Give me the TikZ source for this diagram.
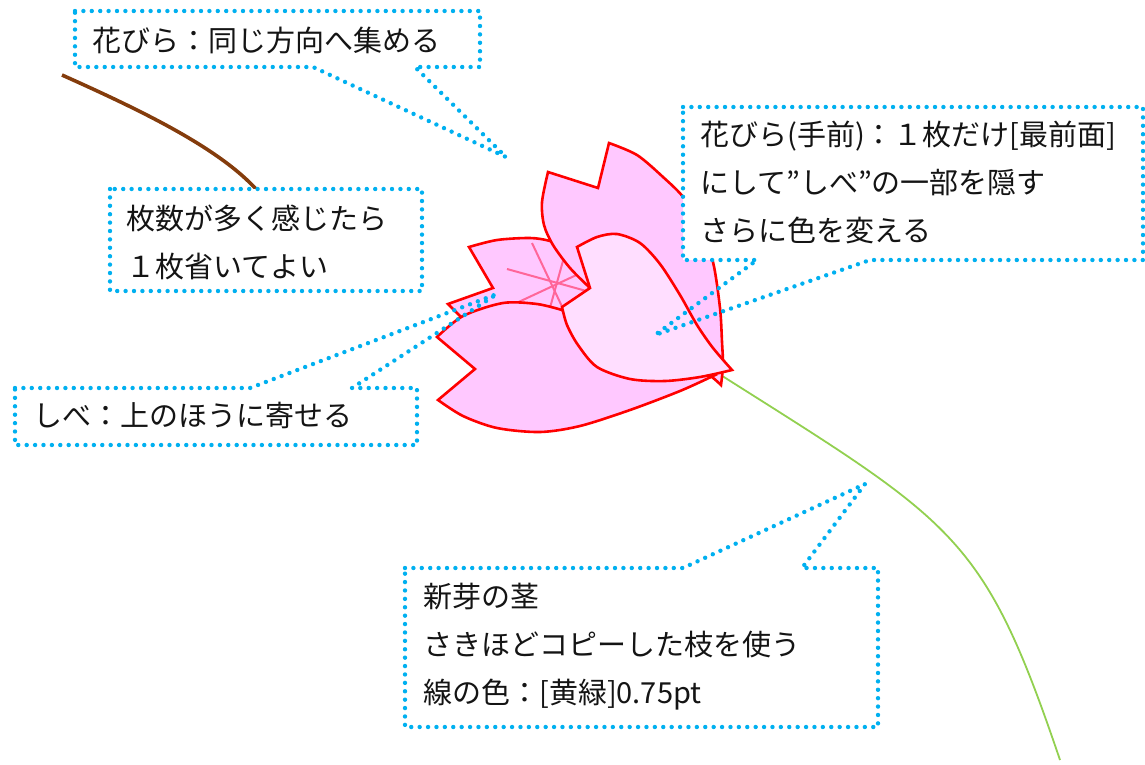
\documentclass[tikz,border=0pt]{standalone}
\usepackage{fontspec}
\setmainfont{Noto Sans CJK JP}
\definecolor{callblue}{RGB}{0,176,240}
\definecolor{petalpink}{RGB}{255,200,255}
\definecolor{frontpink}{RGB}{255,222,255}
\definecolor{petalred}{RGB}{255,0,0}
\definecolor{stamenpink}{RGB}{255,102,153}
\definecolor{branchbrown}{RGB}{132,60,12}
\definecolor{stemgreen}{RGB}{146,208,80}
\definecolor{inktext}{RGB}{20,20,20}
\begin{document}
\begin{tikzpicture}[x=1pt,y=-1pt,
  petal/.style={draw=petalred, line width=2.6pt, fill=petalpink, line join=miter, miter limit=4},
  frontpetal/.style={petal, fill=frontpink},
  stamen/.style={draw=stamenpink, line width=2pt},
  boxfill/.style={fill=white, draw=none},
  callout/.style={draw=callblue, line width=4.4pt, line cap=round, dash pattern=on 0pt off 8.4pt},
  note/.style={anchor=base west, inner sep=0pt, text=inktext, font=\fontsize{29}{48}\selectfont}]
\useasboundingbox (0,0) rectangle (1145,764);

% old branch (brown) and new stem (yellow-green)
\draw[branchbrown, line width=3.6pt] (62,75) .. controls (140,110) and (225,150) .. (262,196);
\draw[stemgreen, line width=1.8pt] (716,372) .. controls (956,524) and (983,533) .. (1060,760);

% upper-left petal with stamens
\filldraw[petal] (469,247) -- plot[smooth] coordinates {(469,247) (497,240) (530,238) (550,241) (575,250)}
  -- (590,290) -- (560,322) -- (470,326) -- (448,304) -- (493,288) -- cycle;
\draw[stamen] (532,243) -- (566,315);
\draw[stamen] (507,269) -- (590,292);
\draw[stamen] (510,306) -- (585,271);
\draw[stamen] (548,315) -- (566,250);

% tall back petal
\filldraw[petal] (548,172) -- (598,188) -- (609,143)
  -- plot[smooth] coordinates {(609,143) (637,155) (663,177) (684,198) (700,226) (713,262) (720,308) (722,342) (723,365) (721,385)}
  -- plot[smooth] coordinates {(721,385) (712,377) (690,360) (640,330) (600,300) (590,288)}
  -- plot[smooth] coordinates {(590,288) (570,268) (553,245) (544,225) (542,202) (548,172)} -- cycle;

% lower-left petal
\filldraw[petal] (437,337) -- plot[smooth] coordinates {(437,337) (463,316) (503,303) (537,304) (562,310)}
  -- plot[smooth] coordinates {(562,310) (600,340) (660,368) (713,376)}
  -- plot[smooth] coordinates {(713,376) (680,391) (630,410) (580,426) (540,432) (497,428) (463,416) (438,400)}
  -- (475,369) -- cycle;

% front petal, lighter colour
\filldraw[frontpetal] (577,247) -- plot[smooth] coordinates {(577,247) (597,237) (617,234) (640,243) (660,264) (680,295) (697,325) (713,348) (732,370)}
  -- plot[smooth] coordinates {(732,370) (700,377) (665,381) (630,379) (597,367) (578,345) (567,325) (562,307)}
  -- (590,288) -- cycle;

% pointer tips
\coordinate (tipTop) at (506,157);
\coordinate (tipFront) at (655,335);
\coordinate (tipStamen) at (497,294);
\coordinate (tipStem) at (865,484);

% callout: petals in one direction
\fill[boxfill] (75,11) rectangle (480,67);
\draw[callout] (75,11) -- (480,11) -- (480,67) -- (415,67) -- (tipTop) -- (313,67) -- (75,67) -- cycle;
\node[note] (nTop) at (92,51) {花びら：同じ方向へ集める};

% callout: front petal
\fill[boxfill] (683,107) rectangle (1143,260);
\draw[callout] (683,107) -- (1143,107) -- (1143,260) -- (870,260) -- (tipFront) -- (757,260) -- (683,260) -- cycle;
\node[note] (nFrontA) at (700,145) {花びら(手前)：１枚だけ[最前面]};
\node[note] (nFrontB) at (700,193) {にして”しべ”の一部を隠す};
\node[note] (nFrontC) at (700,241) {さらに色を変える};

% callout: number of petals
\fill[boxfill] (110,189) rectangle (422,291);
\draw[callout] (110,189) rectangle (422,291);
\node[note] (nCountA) at (126,229) {枚数が多く感じたら};
\node[note] (nCountB) at (126,277) {１枚省いてよい};

% callout: stamens
\fill[boxfill] (15,388) rectangle (417,445);
\draw[callout] (15,388) -- (250,388) -- (tipStamen) -- (352,388) -- (417,388) -- (417,445) -- (15,445) -- cycle;
\node[note] (nStamen) at (33,426) {しべ：上のほうに寄せる};

% callout: stem
\fill[boxfill] (405,568) rectangle (878,727);
\draw[callout] (405,568) -- (683,568) -- (tipStem) -- (802,568) -- (878,568) -- (878,727) -- (405,727) -- cycle;
\node[note] (nStemA) at (423,607) {新芽の茎};
\node[note] (nStemB) at (423,655) {さきほどコピーした枝を使う};
\node[note] (nStemC) at (423,703) {線の色：[黄緑]0.75pt};
\end{tikzpicture}
\end{document}
